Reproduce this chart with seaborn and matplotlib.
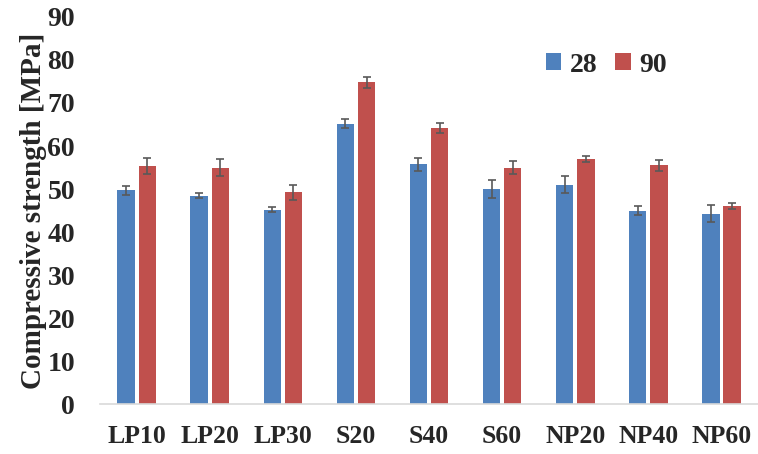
import pandas as pd
import seaborn as sns
import matplotlib.pyplot as plt

# data
mixes = ["LP10", "LP20", "LP30", "S20", "S40", "S60", "NP20", "NP40", "NP60"]
days = ["28", "90"]
strength_28 = [49.7, 48.4, 45.2, 65.2, 55.8, 50.0, 51.0, 45.0, 44.3]
strength_90 = [55.4, 55.0, 49.2, 74.8, 64.2, 55.0, 57.0, 55.5, 46.0]
err_28 = [1.0, 0.6, 0.6, 1.0, 1.5, 2.0, 2.0, 1.0, 1.9]
err_90 = [1.9, 2.0, 1.8, 1.2, 1.2, 1.5, 0.7, 1.2, 0.7]

df = pd.DataFrame({
    "mix": mixes * 2,
    "age": [days[0]] * len(mixes) + [days[1]] * len(mixes),
    "strength": strength_28 + strength_90,
    "err": err_28 + err_90,
})

sns.set_style("white")
plt.rcParams["font.family"] = ["Liberation Serif", "DejaVu Serif"]
plt.rcParams["font.weight"] = "bold"

fig = plt.figure(figsize=(7.58, 4.54), dpi=100)
ax = fig.add_axes([0.132, 0.110, 0.868, 0.8526])

sns.barplot(data=df, x="mix", y="strength", hue="age", order=mixes, hue_order=days,
            palette=["#4F81BD", "#C0504D"], width=0.58, gap=0.18, errorbar=None,
            saturation=1, linewidth=0, ax=ax)

# error bars on top of each bar
for cont, age in zip(ax.containers, days):
    sub = df[df["age"] == age].set_index("mix").loc[mixes]
    xs = [p.get_x() + p.get_width() / 2 for p in cont.patches]
    ax.errorbar(xs, sub["strength"], yerr=sub["err"], fmt="none",
                ecolor="#595959", elinewidth=1.2, capsize=3, capthick=1.2)

ax.set_ylim(0, 90)
ax.set_xlim(-0.5, 8.5)
ax.set_yticks(range(0, 91, 10))
ax.set_xlabel("")
ax.set_ylabel("Compressive strength [MPa]", fontsize=21, fontweight="bold", labelpad=0)
ax.tick_params(axis="y", labelsize=20, length=0, pad=18)
ax.tick_params(axis="x", labelsize=18.5, length=0, pad=15)
for lbl in ax.get_xticklabels() + ax.get_yticklabels():
    lbl.set_fontweight("bold")

for s in ["top", "right", "left"]:
    ax.spines[s].set_visible(False)
ax.spines["bottom"].set_color("#D9D9D9")
ax.spines["bottom"].set_linewidth(1.2)

leg = ax.legend(title=None, ncol=2, frameon=False, loc="center left",
                bbox_to_anchor=(546 / 758, 1 - 65 / 454), bbox_transform=fig.transFigure,
                borderaxespad=0, borderpad=0, prop={"size": 20, "weight": "bold"},
                handlelength=0.55, handleheight=0.55, columnspacing=0.65, handletextpad=0.3)

fig.savefig("out.png", dpi=100)
